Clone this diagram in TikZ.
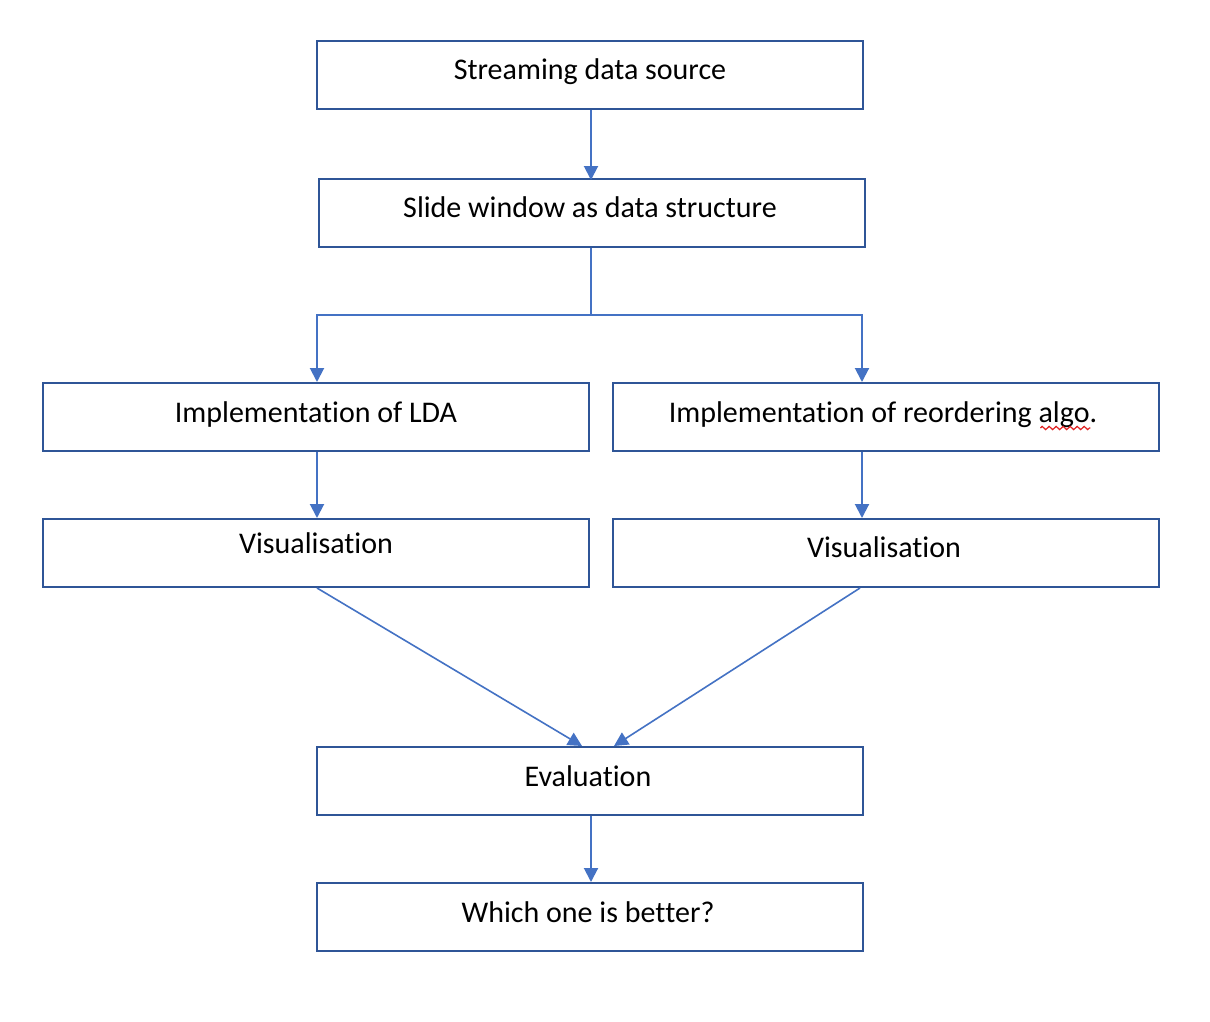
\documentclass[tikz,border=0pt]{standalone}
\usepackage{fontspec}
\setmainfont{Carlito}[Ligatures={NoCommon,NoRequired,NoContextual}]
\usetikzlibrary{arrows.meta,calc,decorations.pathmorphing}
\definecolor{boxline}{HTML}{2F5597}
\definecolor{arrline}{HTML}{4472C4}
\definecolor{spell}{HTML}{E02020}
\newcommand\nolig{\kern0pt{}}
\begin{document}
\begin{tikzpicture}[x=1pt,y=-1pt,
  box/.style={draw=boxline,line width=2pt,minimum width=546pt,minimum height=68pt,inner sep=0pt},
  lbl/.style={anchor=base,inner sep=0pt,font=\fontsize{30}{36}\selectfont},
  conn/.style={draw=arrline,line width=2pt},
  arr/.style={conn,-{Triangle[width=14pt,length=14pt]}},
  diag/.style={draw=arrline,line width=1.6pt,-{Triangle[width=14pt,length=14pt]}}]
\useasboundingbox (0,0) rectangle (1210,1022);
\fill[white] (0,0) rectangle (1210,1022);
% boxes
\node[box] (src) at (590,75) {};
\node[box] (win) at (592,213) {};
\node[box] (lda) at (316,417) {};
\node[box] (reo) at (886,417) {};
\node[box] (visl) at (316,553) {};
\node[box] (visr) at (886,553) {};
\node[box] (eval) at (590,781) {};
\node[box] (best) at (590,917) {};
% labels
\node[lbl] (tsrc) at (590,80) {Streaming data source};
\node[lbl] (twin) at (590,217) {Slide window as data structure};
\node[lbl] (tlda) at (316,422) {Implementat\nolig ion of LDA};
\node[lbl] (treo) at (883,422) {Implementat\nolig ion of reordering algo.};
\node[lbl] (tvisl) at (316,553) {Visualisat\nolig ion};
\node[lbl] (tvisr) at (884,557) {Visualisat\nolig ion};
\node[lbl] (teval) at (588,786) {Evaluat\nolig ion};
\node[lbl] (tbest) at (588,922) {Which one is bet\nolig ter?};
% spell-check squiggle
\coordinate (sq1) at ($(treo.base east)+(-57,6)$);
\coordinate (sq2) at ($(treo.base east)+(-7,6)$);
\draw[spell,line width=1.2pt,decorate,decoration={zigzag,amplitude=1.6pt,segment length=7pt}] (sq1) -- (sq2);
% connectors
\coordinate (j) at (591,315);
\coordinate (reoin) at ($(reo.north west)+(250,0)$);
\coordinate (reoout) at ($(reo.south west)+(250,0)$);
\coordinate (visrin) at ($(visr.north west)+(250,0)$);
\coordinate (visrout) at ($(visr.south west)+(248,0)$);
\coordinate (evall) at ($(eval.north west)+(266,0)$);
\coordinate (evalr) at ($(eval.north west)+(298,0)$);
\draw[arr] ($(src.south)+(1,0)$) -- ($(src.south)+(1,70)$);
\draw[conn] ($(win.south)+(-1,0)$) -- (j);
\draw[arr] (j) -| ($(lda.north)+(1,0)$);
\draw[arr] (j) -| (reoin);
\draw[arr] ($(lda.south)+(1,0)$) -- ($(visl.north)+(1,0)$);
\draw[arr] (reoout) -- (visrin);
\draw[diag] ($(visl.south)+(1,0)$) -- (evall);
\draw[diag] (visrout) -- (evalr);
\draw[arr] ($(eval.south)+(1,0)$) -- ($(best.north)+(1,0)$);
\end{tikzpicture}
\end{document}
